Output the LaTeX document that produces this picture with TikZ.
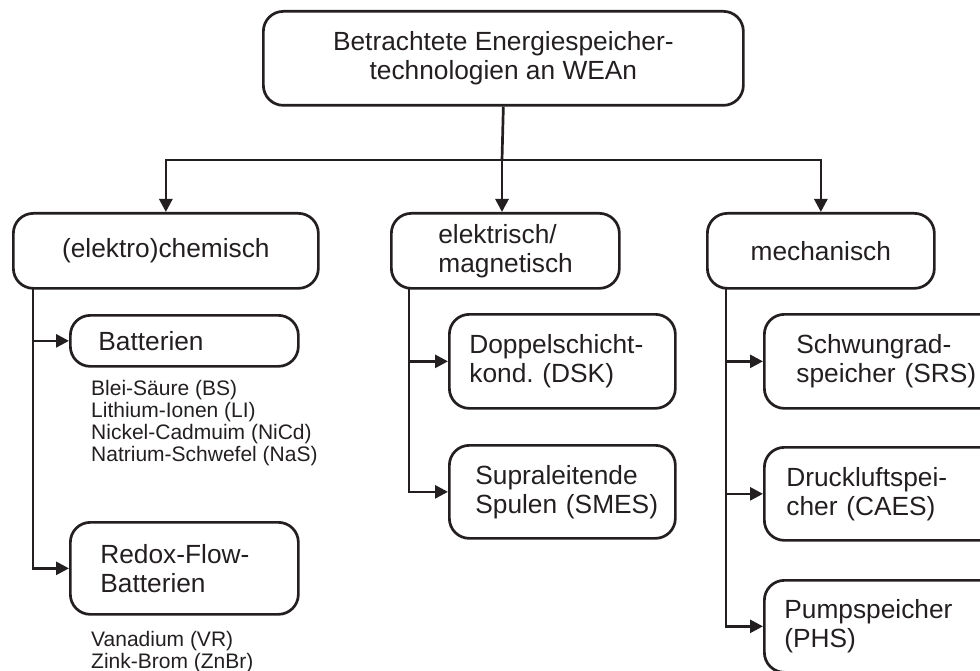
\documentclass[tikz,border=0pt]{standalone}
\usepackage{fontspec}
\setmainfont{Liberation Sans}
\usetikzlibrary{arrows.meta}
\definecolor{ink}{RGB}{35,31,32}
\hyphenpenalty=10000
\exhyphenpenalty=10000
\frenchspacing
\begin{document}
\begin{tikzpicture}[x=1pt,y=-1pt,
  bx/.style={draw=ink, line width=2.7pt, rounded corners=20pt, text=ink, inner ysep=0pt,
    font=\fontsize{26.3}{29}\selectfont, anchor=north west},
  lbx/.style n args={3}{bx, minimum width=#1pt, inner xsep=#2pt, text width=#1pt-2*#2pt, minimum height=#3pt, align=left},
  cbx/.style n args={2}{bx, minimum width=#1pt, minimum height=#2pt, align=center},
  arr/.style={draw=ink, line width=2.7pt, -{Triangle[length=13pt,width=13pt]}},
  ln/.style={draw=ink, line width=2.7pt},
  small/.style={text=ink, font=\fontsize{21}{22}\selectfont, align=left, inner sep=0pt, anchor=north west}]
\useasboundingbox (0,0) rectangle (980,671);
\clip (0,0) rectangle (980,671);

% top
\node[cbx={480}{94}] (top) at (262,10) {Betrachtete Energiespeicher-\\technologien an WEAn};

% categories
\node[cbx={305}{75}] (chem) at (12,212) {(elektro)chemisch};
\node[lbx={228}{47}{75}] (elek) at (390,212) {elektrisch/\\magnetisch};
\node[cbx={227}{75}] (mech) at (706,212) {mechanisch};

% left column
\node[lbx={228}{28}{51}] (batt) at (69,314) {Batterien};
\node[small] (battl) at (91,380) {Blei-Säure (BS)\\Lithium-Ionen (LI)\\Nickel-Cadmuim (NiCd)\\Natrium-Schwefel (NaS)};
\node[lbx={228}{30}{92}] (redox) at (69,521) {Redox-Flow-\\Batterien};
\node[small] (redoxl) at (91,631) {Vanadium (VR)\\Zink-Brom (ZnBr)};

% middle column
\node[lbx={226}{20}{94}] (dsk) at (448,313) {Doppelschicht-\\kond.~(DSK)};
\node[lbx={226}{26}{93}] (smes) at (448,444) {Supraleitende\\Spulen~(SMES)};

% right column
\node[lbx={280}{32}{94}] (srs) at (763,313) {Schwungrad-\\speicher~(SRS)};
\node[lbx={280}{22}{93}] (caes) at (763,446) {Druckluftspei-\\cher~(CAES)};
\node[lbx={280}{20}{92}] (phs) at (763,579) {Pumpspeicher\\(PHS)};

% top connectors
\coordinate (j) at (502,160);
\draw[ln] (top.south) -- (j);
\draw[arr] (j) -| (chem.north);
\draw[arr] (j) -| (mech.north);
\draw[arr] (j) -- (j |- elek.north);

% left branch
\coordinate (lc) at (33,287);
\draw[arr] (lc) |- (redox.west);
\draw[arr] (lc |- batt.west) -- (batt.west);

% middle branch
\coordinate (mc) at (409,287);
\draw[arr] (mc) |- (smes.west);
\draw[arr] (mc |- dsk.west) -- (dsk.west);

% right branch
\coordinate (rc) at (726,287);
\draw[arr] (rc) |- (phs.west);
\draw[arr] (rc |- srs.west) -- (srs.west);
\draw[arr] (rc |- caes.west) -- (caes.west);
\end{tikzpicture}
\end{document}
